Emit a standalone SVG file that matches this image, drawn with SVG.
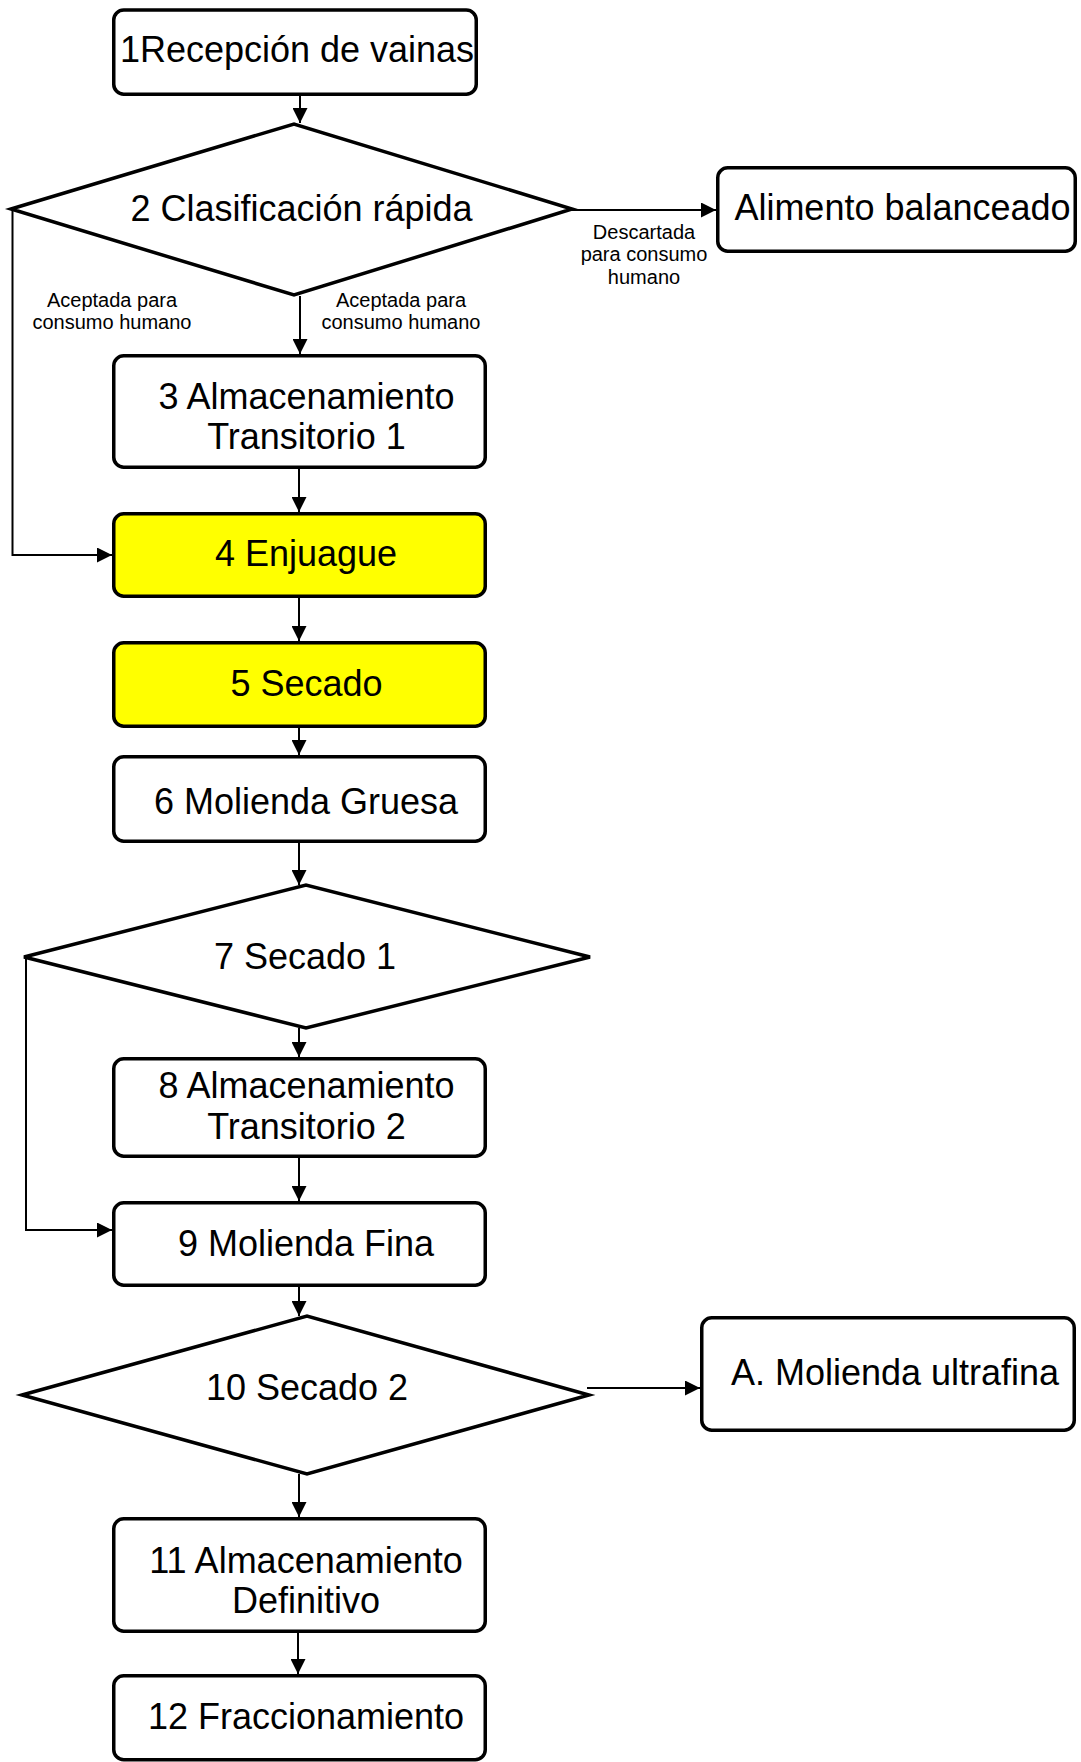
<svg xmlns="http://www.w3.org/2000/svg" width="1081" height="1762" viewBox="0 0 1081 1762">
<style>
.box{fill:#fff;stroke:#000;stroke-width:3.5}
.hl{fill:#ffff00}
.dia{fill:#fff;stroke:#000;stroke-width:3.5;stroke-linejoin:miter}
.t{font-family:"Liberation Sans",Arial,sans-serif;font-size:36px;fill:#000;text-anchor:middle}
.s{font-family:"Liberation Sans",Arial,sans-serif;font-size:20px;fill:#000;text-anchor:middle}
.c{fill:none;stroke:#000;stroke-width:2}
</style>
<defs>
<marker id="ah" markerUnits="userSpaceOnUse" markerWidth="15" markerHeight="15" refX="15" refY="7.5" orient="auto">
<path d="M0,0 L15,7.5 L0,15 z" fill="#000"/>
</marker>
</defs>
<rect width="1081" height="1762" fill="#fff"/>
<g id="connectors">
<line class="c" x1="300" y1="96" x2="300" y2="123" marker-end="url(#ah)"/>
<line class="c" x1="572" y1="210" x2="716" y2="210" marker-end="url(#ah)"/>
<line class="c" x1="300" y1="296" x2="300" y2="354" marker-end="url(#ah)"/>
<path class="c" d="M12.5,209 V555 H112" marker-end="url(#ah)"/>
<line class="c" x1="299" y1="469" x2="299" y2="512" marker-end="url(#ah)"/>
<line class="c" x1="299" y1="598" x2="299" y2="641" marker-end="url(#ah)"/>
<line class="c" x1="299" y1="728" x2="299" y2="755" marker-end="url(#ah)"/>
<line class="c" x1="299" y1="843" x2="299" y2="885" marker-end="url(#ah)"/>
<line class="c" x1="299" y1="1028" x2="299" y2="1057" marker-end="url(#ah)"/>
<path class="c" d="M26,957 V1230 H112" marker-end="url(#ah)"/>
<line class="c" x1="299" y1="1158" x2="299" y2="1201" marker-end="url(#ah)"/>
<line class="c" x1="299" y1="1287" x2="299" y2="1316" marker-end="url(#ah)"/>
<line class="c" x1="587" y1="1388" x2="700" y2="1388" marker-end="url(#ah)"/>
<line class="c" x1="299" y1="1474" x2="299" y2="1517" marker-end="url(#ah)"/>
<line class="c" x1="298" y1="1633" x2="298" y2="1674" marker-end="url(#ah)"/>
<text class="s" x="112" y="306.5">Aceptada para</text>
<text class="s" x="112" y="329">consumo humano</text>
<text class="s" x="401" y="306.5">Aceptada para</text>
<text class="s" x="401" y="329">consumo humano</text>
<text class="s" x="644" y="238.5">Descartada</text>
<text class="s" x="644" y="261">para consumo</text>
<text class="s" x="644" y="283.5">humano</text>
</g>
<g id="n1">
<rect class="box" x="113.75" y="10" width="362.5" height="84.25" rx="10"/>
<text class="t" x="297" y="62">1Recepción de vainas</text>
</g>
<g id="n2">
<polygon class="dia" points="11,209 294,124 572,209 294,295"/>
<text class="t" x="301.5" y="221">2 Clasificación rápida</text>
</g>
<g id="nAlimento">
<rect class="box" x="717.75" y="167.75" width="357.5" height="83.5" rx="10"/>
<text class="t" x="902.5" y="220">Alimento balanceado</text>
</g>
<g id="n3">
<rect class="box" x="113.75" y="355.75" width="371.5" height="111.5" rx="10"/>
<text class="t" x="306.5" y="409">3 Almacenamiento</text>
<text class="t" x="306.5" y="449">Transitorio 1</text>
</g>
<g id="n4">
<rect class="box hl" x="113.75" y="513.75" width="371.5" height="82.5" rx="10"/>
<text class="t" x="306" y="566">4 Enjuague</text>
</g>
<g id="n5">
<rect class="box hl" x="113.75" y="642.75" width="371.5" height="83.5" rx="10"/>
<text class="t" x="306.5" y="695.5">5 Secado</text>
</g>
<g id="n6">
<rect class="box" x="113.75" y="756.75" width="371.5" height="84.5" rx="10"/>
<text class="t" x="306" y="814">6 Molienda Gruesa</text>
</g>
<g id="n7">
<polygon class="dia" points="24,957 306,885 590,957 306,1028"/>
<text class="t" x="305" y="969">7 Secado 1</text>
</g>
<g id="n8">
<rect class="box" x="113.75" y="1058.75" width="371.5" height="97.5" rx="10"/>
<text class="t" x="306.5" y="1098">8 Almacenamiento</text>
<text class="t" x="306.5" y="1139">Transitorio 2</text>
</g>
<g id="n9">
<rect class="box" x="113.75" y="1202.75" width="371.5" height="82.5" rx="10"/>
<text class="t" x="306" y="1256">9 Molienda Fina</text>
</g>
<g id="n10">
<polygon class="dia" points="22,1395 307,1316 589,1395 307,1474"/>
<text class="t" x="307" y="1400">10 Secado 2</text>
</g>
<g id="nA">
<rect class="box" x="701.75" y="1317.75" width="372.5" height="112.5" rx="10"/>
<text class="t" x="895" y="1385">A. Molienda ultrafina</text>
</g>
<g id="n11">
<rect class="box" x="113.75" y="1518.75" width="371.5" height="112.5" rx="10"/>
<text class="t" x="306" y="1573">11 Almacenamiento</text>
<text class="t" x="306" y="1613">Definitivo</text>
</g>
<g id="n12">
<rect class="box" x="113.75" y="1675.75" width="371.5" height="84" rx="10"/>
<text class="t" x="306" y="1729">12 Fraccionamiento</text>
</g>
</svg>
